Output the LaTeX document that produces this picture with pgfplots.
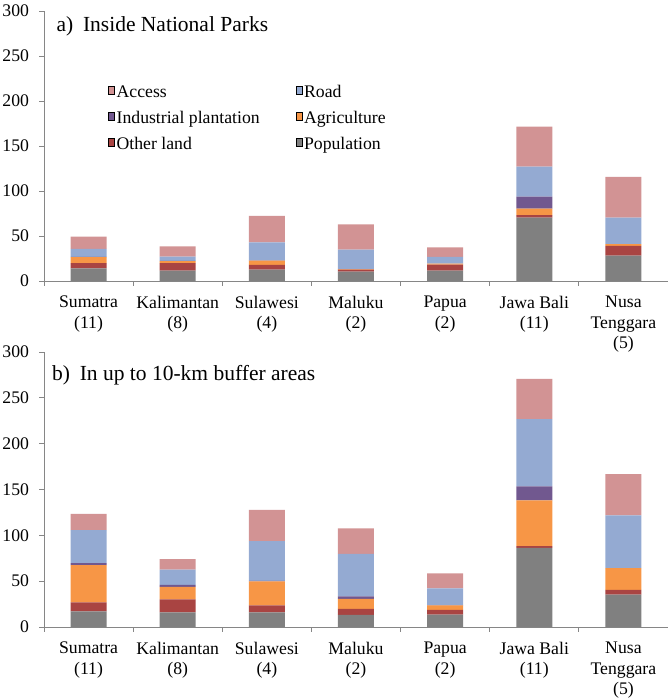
\documentclass[border=0pt]{standalone}
\usepackage{pgfplots}
\pgfplotsset{compat=1.18}
\usepackage{pgfplotstable}
\usepackage{fontspec}
\setmainfont{Liberation Serif}

\definecolor{cAccess}{HTML}{D29394}
\definecolor{cRoad}{HTML}{94AAD2}
\definecolor{cInd}{HTML}{71588F}
\definecolor{cAgri}{HTML}{F79646}
\definecolor{cOther}{HTML}{A94442}
\definecolor{cPop}{HTML}{808080}
\definecolor{axisgray}{HTML}{868686}

% x pop other agri ind road access
\pgfplotstableread{
x pop other agri ind road access
1 14.0 6.0 6.5 0.3 9.0 13.5
2 11.5 8.5 2.0 0.3 4.7 11.4
3 12.6 5.2 4.8 0.2 20.0 29.6
4 10.4 2.3 0.5 0.0 21.6 28.2
5 11.5 6.6 1.2 0.0 7.4 10.7
6 70.4 2.9 7.1 13.3 33.3 44.4
7 28.1 10.8 2.2 0.0 29.3 45.2
}\parks

\pgfplotstableread{
x pop other agri ind road access
1 17.1 9.9 40.4 2.2 36.1 17.8
2 16.0 14.2 13.5 2.2 16.8 11.3
3 16.0 7.7 26.2 0.3 43.5 34.2
4 13.1 6.6 10.9 2.9 46.3 27.7
5 13.5 5.1 5.1 0.3 18.2 16.4
6 86.4 1.8 49.9 15.3 73.3 44.1
7 35.3 5.2 23.6 0.0 57.6 45.2
}\buffer

\pgfplotsset{
  panel/.style={
    scale only axis,
    width=624pt,
    ybar stacked,
    bar width=36pt,
    xmin=0.5, xmax=7.5,
    ymin=0, ymax=300,
    ytick={0,50,...,300},
    xtick={1,...,7},
    xticklabels={{Sumatra\\(11)},{Kalimantan\\(8)},{Sulawesi\\(4)},{Maluku\\(2)},{Papua\\(2)},{Jawa Bali\\(11)},{Nusa\\Tenggara\\(5)}},
    minor xtick={0.5,1.5,...,7.5},
    axis x line*=bottom,
    axis y line*=left,
    axis line style={axisgray, line width=0.8pt, -},
    tick align=outside,
    major tick length=4.5pt,
    minor tick length=4.5pt,
    major x tick style={draw=none},
    minor x tick style={axisgray, line width=0.8pt},
    ytick style={axisgray, line width=0.8pt},
    /pgf/number format/assume math mode=true,
    tick label style={font=\fontsize{17.7}{20.5}\selectfont},
    yticklabel style={xshift=-7pt},
    xticklabel style={align=center, yshift=-7pt},
    every axis plot/.append style={draw=none},
    clip=false,
  },
  /pgfplots/legend image code/.code={\fill[#1] (0pt,-5pt) rectangle (10pt,5pt); \path (10pt,0pt) -- (14pt,0pt);},
}

\begin{document}
\begin{tikzpicture}
\begin{axis}[panel, height=270pt,
  legend columns=2,
  reverse legend,
  legend style={draw=none, fill=none, at={(axis cs:1.185,222)}, anchor=north west,
    font=\fontsize{17.7}{20.5}\selectfont, row sep=8pt,
    /tikz/every even column/.append style={column sep=34pt}},
  legend cell align=left,
]
\addplot[fill=cPop] table[x=x,y=pop] {\parks};
\addlegendentry{Population}
\addplot[fill=cOther] table[x=x,y=other] {\parks};
\addlegendentry{Other land}
\addplot[fill=cAgri] table[x=x,y=agri] {\parks};
\addlegendentry{Agriculture}
\addplot[fill=cInd] table[x=x,y=ind] {\parks};
\addlegendentry{Industrial plantation}
\addplot[fill=cRoad] table[x=x,y=road] {\parks};
\addlegendentry{Road}
\addplot[fill=cAccess] table[x=x,y=access] {\parks};
\addlegendentry{Access}
\node[anchor=base west, font=\fontsize{21.5}{24}\selectfont, inner sep=0pt] at (axis cs:0.64,277) {a)\hspace{0.45em}Inside National Parks};
\end{axis}

\begin{axis}[panel, height=275pt, at={(0pt,-346pt)}]
\addplot[fill=cPop] table[x=x,y=pop] {\buffer};
\addplot[fill=cOther] table[x=x,y=other] {\buffer};
\addplot[fill=cAgri] table[x=x,y=agri] {\buffer};
\addplot[fill=cInd] table[x=x,y=ind] {\buffer};
\addplot[fill=cRoad] table[x=x,y=road] {\buffer};
\addplot[fill=cAccess] table[x=x,y=access] {\buffer};
\node[anchor=base west, font=\fontsize{21.5}{24}\selectfont, inner sep=0pt] at (axis cs:0.59,269) {b)\hspace{0.45em}In up to 10-km buffer areas};
\end{axis}
\pgfresetboundingbox
\path (-44pt,-418pt) rectangle (624pt,281pt);
\end{tikzpicture}
\end{document}
